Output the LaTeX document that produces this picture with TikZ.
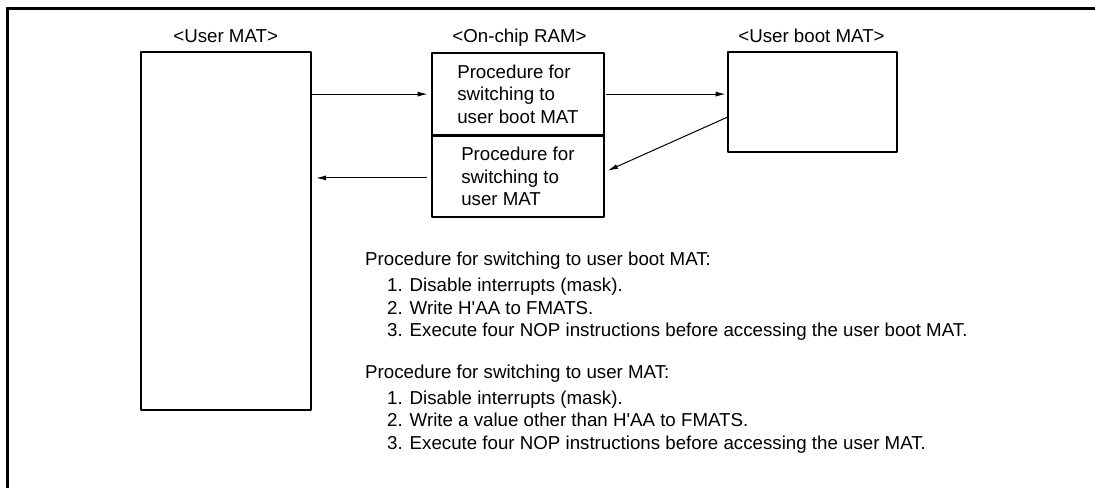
\documentclass[tikz,border=0pt]{standalone}
\usepackage{fontspec}
\newfontfamily\figfont{Liberation Sans}
\usetikzlibrary{arrows.meta}
\tikzset{
  txt/.style={font=\figfont\fontsize{18.7pt}{22.3pt}\selectfont, inner sep=0pt},
  matbox/.style={txt, draw, line width=2.2pt, line join=round, align=left},
  arr/.style={-{Latex[length=10pt,width=5pt]}, line width=1pt},
}
\begin{document}
\begin{tikzpicture}[x=1pt,y=-1pt]
\useasboundingbox (0,0) rectangle (1095,488);
\draw[line width=2.5pt] (7.3,488) -- (7.3,8.7) -- (1095,8.7);
% the three memories
\node[matbox, minimum width=170pt, minimum height=358.3pt] (usermat) at (225.7,230.9) {};
\node[matbox, minimum width=172.3pt, minimum height=82.8pt] (ramtop) at (517.9,94.1)
  {Procedure for\\switching to\\user boot MAT};
\node[matbox, minimum width=172.3pt, minimum height=81.8pt] (rambot) at (517.9,176.4)
  {Procedure for\\switching to\\user MAT};
\node[matbox, minimum width=169pt, minimum height=99.8pt] (bootmat) at (812.7,102.2) {};
\node[txt, anchor=base] (usermatlbl) at (225.7,42.7) {<User MAT>};
\node[txt, anchor=base] (ramlbl) at (519.5,42.7) {<On-chip RAM>};
\node[txt, anchor=base] (bootmatlbl) at (811.5,42.7) {<User boot MAT>};
% switching
\draw[arr, shorten >=3pt] (ramtop.west -| usermat.east) -- (ramtop.west);
\draw[arr, shorten <=1pt, shorten >=1.5pt] (ramtop.east) -- (ramtop.east -| bootmat.west);
\draw[arr, shorten >=3pt] (bootmat.190) -- (rambot.3);
\draw[arr, shorten <=3.4pt, shorten >=4.3pt] (rambot.181) -- (rambot.181 -| usermat.east);
% procedures
\node[txt, anchor=base west] (bootproc) at (365,265.7) {Procedure for switching to user boot MAT:};
\foreach \stp [count=\i] in {1. Disable interrupts (mask).,
    2. Write H'AA to FMATS.,
    3. Execute four NOP instructions before accessing the user boot MAT.}
  \node[txt, anchor=base west] (bootstep\i) at (387,269.2+22.5*\i) {\stp};
\node[txt, anchor=base west] (userproc) at (365,378.3) {Procedure for switching to user MAT:};
\foreach \stp [count=\i] in {1. Disable interrupts (mask).,
    2. Write a value other than H'AA to FMATS.,
    3. Execute four NOP instructions before accessing the user MAT.}
  \node[txt, anchor=base west] (userstep\i) at (387,381.8+22.5*\i) {\stp};
\end{tikzpicture}
\end{document}
